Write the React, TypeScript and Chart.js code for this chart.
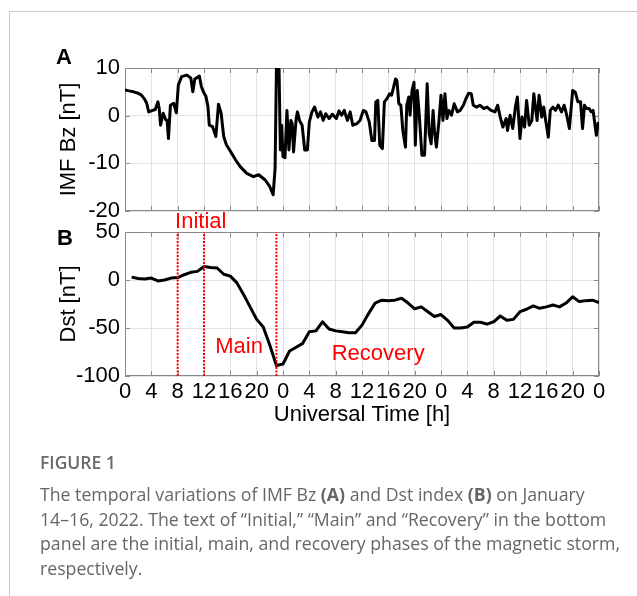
import React, { useEffect, useRef } from 'react';
import { Chart, registerables } from 'chart.js';
Chart.register(...registerables);

// ---------- data ----------
const xTicks = [0, 4, 8, 12, 16, 20, 24, 28, 32, 36, 40, 44, 48, 52, 56, 60, 64, 68, 72];
const xTickLabels = ['0', '4', '8', '12', '16', '20', '0', '4', '8', '12', '16', '20', '0', '4', '8', '12', '16', '20', '0'];
const bzTicks = [-20, -10, 0, 10];
const dstTicks = [-100, -50, 0, 50];

const bzHours = [
  0, 0.6, 1.3, 2.0, 2.5, 3.0, 3.3, 3.6, 4.2, 4.6, 5.0, 5.2, 5.4, 5.8, 6.2, 6.4, 6.6, 6.9, 7.4, 7.8,
  8.1, 8.6, 9.4, 10.0, 10.3, 10.6, 11.3, 11.6, 11.9, 12.3, 12.6, 12.8, 13.3, 13.8, 14.2, 14.6, 15.0, 15.4, 16.2, 16.8,
  17.5, 18.5, 19.5, 20.3, 21.3, 22.0, 22.5, 22.8, 23.0, 23.4, 23.6, 23.8, 24.0, 24.3, 24.6, 24.9, 25.2, 25.4, 25.6, 26.0,
  26.2, 26.5, 26.9, 27.3, 27.7, 28.0, 28.4, 28.8, 29.3, 29.7, 30.1, 30.5, 31.0, 31.5, 32.1, 32.5, 32.9, 33.3, 33.8, 34.2,
  34.6, 35.2, 35.7, 36.2, 36.6, 37.1, 37.5, 37.9, 38.1, 38.4, 38.7, 39.1, 39.4, 39.8, 40.2, 40.5, 40.8, 41.1, 41.3, 41.6,
  41.9, 42.2, 42.6, 42.8, 43.1, 43.3, 43.6, 43.9, 44.1, 44.4, 44.7, 45.1, 45.5, 45.9, 46.2, 46.5, 46.8, 47.0, 47.3, 47.7,
  48.0, 48.3, 48.6, 48.9, 49.2, 49.6, 50.0, 50.5, 50.9, 51.4, 51.8, 52.2, 52.6, 52.9, 53.4, 53.9, 54.5, 55.0, 55.6, 56.2,
  56.6, 57.0, 57.4, 57.9, 58.1, 58.5, 58.9, 59.3, 59.6, 60.0, 60.3, 60.7, 61.0, 61.4, 61.8, 62.1, 62.4, 62.6, 62.9, 63.3,
  63.6, 63.9, 64.3, 64.6, 65.0, 65.4, 65.8, 66.3, 66.7, 67.1, 67.5, 68.0, 68.4, 68.8, 69.2, 69.5, 69.8, 70.1, 70.5, 70.8,
  71.1, 71.3, 71.6, 71.9,
];
const bzValues = [
  5.4, 5.2, 5.0, 4.7, 4.3, 3.4, 2.6, 0.8, 1.1, 1.3, 2.9, 1.5, -2.0, 0.5, -0.9, -1.0, -4.8, 2.2, 2.6, 0.6,
  6.4, 8.2, 8.5, 7.9, 5.0, 7.7, 8.3, 6.1, 5.0, 4.0, 1.9, -2.0, -2.3, -4.4, 2.4, 0.5, -4.4, -6.1, -7.9, -9.3,
  -10.7, -12.1, -12.8, -12.4, -13.5, -14.9, -16.6, -11.0, 9.8, 9.8, -7.2, -2.0, -8.6, -8.8, 1.1, -7.2, -1.0, -1.7, -7.6, -0.6,
  0.8, -1.0, -2.0, -7.2, -7.2, -1.3, 0.8, 1.8, -0.3, 0.8, -1.0, 0.4, -0.6, 0.3, -0.6, 1.0, 0.1, 1.1, -1.0, 0.8,
  -2.0, -1.7, -1.0, 1.1, 0.8, -1.3, -5.2, -5.2, 2.9, 3.2, -6.2, -6.9, 2.9, 3.6, 4.6, 4.3, 6.0, 7.7, 7.4, 2.5,
  2.2, -3.1, -6.6, 2.2, 3.9, 0.1, 5.3, 7.0, -6.2, 5.3, 0.1, -8.3, -8.3, 6.7, -3.8, -5.9, 1.1, -3.1, -6.6, -1.0,
  4.3, -1.0, 4.6, -0.6, 1.1, 0.1, 2.5, 0.8, 1.1, 2.2, 3.6, 4.7, 4.6, 2.2, 1.8, 2.2, 1.5, 1.8, 1.1, 0.8,
  2.2, -0.3, -2.4, -0.6, -3.1, 0.1, -2.7, 1.8, 3.9, -4.8, -0.3, -2.4, 3.2, -2.0, -1.0, 4.6, 1.1, -1.0, 4.3, -0.3,
  1.8, -1.0, -4.5, 1.1, 1.8, 1.1, 2.2, 0.8, 2.2, 0.1, -2.7, 5.3, 4.9, 2.9, 2.9, -2.7, 2.2, 1.5, 1.5, 0.8,
  1.1, -1.0, -4.1, -1.3,
];

const dstHours = [
  1, 2, 3, 4, 5, 6, 7, 8, 9, 10, 11, 12, 13, 14, 15, 16, 17, 18, 19, 20, 21, 22, 23, 24,
  25, 26, 27, 28, 29, 30, 31, 32, 33, 34, 35, 36, 37, 38, 39, 40, 41, 42, 43, 44, 45, 46, 47, 48,
  49, 50, 51, 52, 53, 54, 55, 56, 57, 58, 59, 60, 61, 62, 63, 64, 65, 66, 67, 68, 69, 70, 71, 72,
];
const dstValues = [
  3, 1.5, 1, 2, -1, 0, 2, 2.5, 5.5, 8, 9, 14, 13, 12.5, 6, 4, -3, -15, -28, -41, -49, -68, -89, -87.5,
  -74, -70, -66, -54, -53, -43.5, -51, -53, -54, -55, -55, -47, -35, -24, -21, -21.5, -21, -19, -24, -30, -28, -33, -38, -36,
  -42, -50, -50, -49, -44, -44, -46, -43.5, -37.5, -42, -41, -33, -30.5, -27, -29.5, -28, -26, -28, -24, -17.5, -22.5, -21.5, -21, -23.5,
];

const phaseLineHours = [8, 12, 23];
const phaseLabels = ['Initial', 'Main', 'Recovery'];
const phaseLabelHours = [7.6, 13.7, 31.4];
const phaseLabelValues = [54.2, -76, -83.3];

// ---------- styles ----------
const FONT = '"Liberation Sans", Arial, Helvetica, sans-serif';
const GRID = '#e2e2e2';
const BOX = '#8a8a8a';

const framePlugin = {
  id: 'frame',
  beforeDatasetsDraw(chart: any) {
    const { ctx, chartArea, scales } = chart;
    const { left, right, top, bottom } = chartArea;
    ctx.save();
    ctx.strokeStyle = BOX;
    ctx.lineWidth = 1;
    ctx.strokeRect(Math.round(left) + 0.5, Math.round(top) + 0.5, Math.round(right - left) - 1, Math.round(bottom - top) - 1);
    const tl = 5;
    ctx.beginPath();
    scales.x.ticks.forEach((t: any) => {
      const px = Math.round(scales.x.getPixelForValue(t.value)) + 0.5;
      ctx.moveTo(px, top); ctx.lineTo(px, top + tl);
      ctx.moveTo(px, bottom); ctx.lineTo(px, bottom - tl);
    });
    scales.y.ticks.forEach((t: any) => {
      const py = Math.round(scales.y.getPixelForValue(t.value)) + 0.5;
      ctx.moveTo(left, py); ctx.lineTo(left + tl, py);
      ctx.moveTo(right, py); ctx.lineTo(right - tl, py);
    });
    ctx.stroke();
    ctx.restore();
  },
  afterDraw(chart: any) {
    const o = chart.options.plugins.panelText;
    if (!o) return;
    const { ctx, chartArea, scales } = chart;
    ctx.save();
    ctx.textBaseline = 'alphabetic';
    ctx.textAlign = 'left';
    ctx.fillStyle = '#000';
    ctx.font = `bold 22px ${FONT}`;
    ctx.fillText(o.label, chartArea.left + o.dx, chartArea.top + o.dy);
    if (o.phases) {
      ctx.fillStyle = '#ff0000';
      ctx.font = `22px ${FONT}`;
      phaseLabels.forEach((txt, i) => {
        ctx.fillText(txt, scales.x.getPixelForValue(phaseLabelHours[i]), scales.y.getPixelForValue(phaseLabelValues[i]));
      });
    }
    ctx.restore();
  },
};

function xScale(showLabels: boolean) {
  return {
    type: 'linear',
    min: 0,
    max: 72,
    afterBuildTicks: (s: any) => { s.ticks = xTicks.map((v) => ({ value: v })); },
    ticks: {
      display: showLabels,
      autoSkip: false,
      maxRotation: 0,
      minRotation: 0,
      padding: 3,
      color: '#000',
      font: { family: FONT, size: 22 },
      callback: (_v: any, i: number) => xTickLabels[i],
    },
    grid: { color: GRID, lineWidth: 1, drawTicks: false },
    border: { display: false },
    title: showLabels
      ? { display: true, text: 'Universal Time [h]', color: '#000', font: { family: FONT, size: 22 }, padding: { top: 0, bottom: 8 } }
      : { display: false },
    afterFit: (s: any) => { s.height = showLabels ? 60 : 0; },
  };
}

function yScale(min: number, max: number, ticks: number[], title: string) {
  return {
    min,
    max,
    afterBuildTicks: (s: any) => { s.ticks = ticks.map((v) => ({ value: v })); },
    ticks: { color: '#000', padding: 5, font: { family: FONT, size: 22 }, callback: (v: any) => String(v) },
    grid: { color: GRID, lineWidth: 1, drawTicks: false },
    border: { display: false },
    title: { display: true, text: title, color: '#000', font: { family: FONT, size: 22 }, padding: { top: 56, bottom: 0 } },
    afterFit: (s: any) => { s.width = 125; },
  };
}

const W = 637;
const H = 596;

export default function App() {
  const refA = useRef<HTMLCanvasElement>(null);
  const refB = useRef<HTMLCanvasElement>(null);

  useEffect(() => {
    const common = {
      responsive: false,
      animation: false,
      devicePixelRatio: 1,
      events: [],
    };
    const chartA = new Chart(refA.current as HTMLCanvasElement, {
      type: 'line',
      data: {
        datasets: [
          {
            data: bzHours.map((h, i) => ({ x: h, y: bzValues[i] })),
            borderColor: '#000',
            borderWidth: 3,
            pointRadius: 0,
            tension: 0,
            borderJoinStyle: 'round',
          },
        ],
      },
      options: {
        ...common,
        layout: { padding: { left: 0, right: W - 599, top: 68, bottom: H - 211 } },
        plugins: { legend: { display: false }, tooltip: { enabled: false }, panelText: { label: 'A', dx: -69, dy: -4 } },
        scales: { x: xScale(false), y: yScale(-20, 10, bzTicks, 'IMF Bz [nT]') },
      },
      plugins: [framePlugin],
    } as any);

    const chartB = new Chart(refB.current as HTMLCanvasElement, {
      type: 'line',
      data: {
        datasets: [
          ...phaseLineHours.map((h) => ({
            data: [{ x: h, y: -100 }, { x: h, y: 50 }],
            borderColor: '#ff0000',
            borderWidth: 2,
            borderDash: [2, 1.5],
            pointRadius: 0,
            order: 0,
          })),
          {
            data: dstHours.map((h, i) => ({ x: h, y: dstValues[i] })),
            borderColor: '#000',
            borderWidth: 3,
            pointRadius: 0,
            tension: 0,
            borderJoinStyle: 'round',
            order: 1,
          },
        ],
      },
      options: {
        ...common,
        layout: { padding: { left: 0, right: W - 599, top: 232, bottom: H - 376 - 60 } },
        plugins: { legend: { display: false }, tooltip: { enabled: false }, panelText: { label: 'B', dx: -68, dy: 13, phases: true } },
        scales: { x: xScale(true), y: yScale(-100, 50, dstTicks, 'Dst [nT]') },
      },
      plugins: [framePlugin],
    } as any);

    return () => {
      chartA.destroy();
      chartB.destroy();
    };
  }, []);

  const capFont = '"Open Sans", "Noto Sans", sans-serif';
  return (
    <div style={{ position: 'absolute', left: 0, top: 0, width: W, height: H, background: '#fff', overflow: 'hidden' }}>
      <div style={{ position: 'absolute', left: 9, top: 11, width: 700, height: 700, borderTop: '1px solid #cccccc', borderLeft: '1px solid #cccccc' }} />
      <canvas ref={refA} width={W} height={H} style={{ position: 'absolute', left: 0, top: 0 }} />
      <canvas ref={refB} width={W} height={H} style={{ position: 'absolute', left: 0, top: 0 }} />
      <div style={{ position: 'absolute', left: 40, top: 450, fontFamily: capFont, fontSize: 17.5, fontWeight: 600, color: '#6a6a6a', lineHeight: '24px', whiteSpace: 'nowrap' }}>
        FIGURE 1
      </div>
      <div style={{ position: 'absolute', left: 40, top: 482, fontFamily: capFont, fontSize: 17.7, color: '#666666', lineHeight: '24.5px', whiteSpace: 'nowrap' }}>
        <div>The temporal variations of IMF Bz <b>(A)</b> and Dst index <b>(B)</b> on January</div>
        <div>14–16, 2022. The text of “Initial,” “Main” and “Recovery” in the bottom</div>
        <div>panel are the initial, main, and recovery phases of the magnetic storm,</div>
        <div>respectively.</div>
      </div>
    </div>
  );
}
